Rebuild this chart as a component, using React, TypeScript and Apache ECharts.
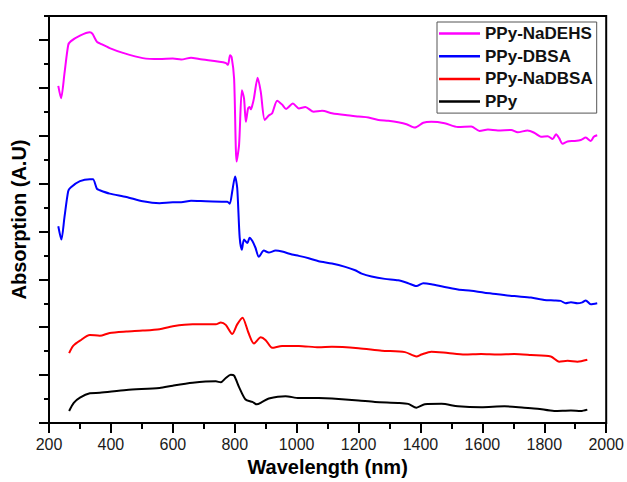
import React, { useEffect, useRef } from "react";
import * as echarts from "echarts";

const seriesNames = ["PPy-NaDEHS", "PPy-DBSA", "PPy-NaDBSA", "PPy"];
const seriesColors = ["#ff00ff", "#0000ff", "#ff0000", "#000000"];

const xTicks = [200, 400, 600, 800, 1000, 1200, 1400, 1600, 1800, 2000];
const yMajorTicks = [0, 1, 2, 3, 4, 5, 6, 7, 8];
const yMinorTicks = [0.5, 1.5, 2.5, 3.5, 4.5, 5.5, 6.5, 7.5, 8.5];

const naDEHS: [number, number][] = [
  [230, 7.04], [239, 6.78], [250, 7.3], [262, 7.89], [270, 7.97], [300, 8.09], [332, 8.16], [340, 8.13],
  [355, 7.96], [364, 7.93], [396, 7.83], [439, 7.73], [503, 7.62], [557, 7.6], [600, 7.61], [627, 7.59],
  [659, 7.63], [685, 7.6], [771, 7.52], [778, 7.48], [785, 7.68], [790, 7.64], [798, 7.19], [806, 5.46],
  [814, 5.81], [823, 6.95], [830, 6.78], [836, 6.29], [843, 6.57], [848, 6.6], [852, 6.55], [857, 6.64],
  [862, 6.78], [874, 7.21], [884, 6.92], [897, 6.33], [910, 6.42], [921, 6.47], [937, 6.73], [953, 6.65],
  [966, 6.56], [988, 6.67], [1007, 6.57], [1028, 6.6], [1055, 6.5], [1082, 6.52], [1114, 6.47], [1157, 6.43],
  [1200, 6.4], [1232, 6.38], [1264, 6.33], [1296, 6.31], [1328, 6.28], [1355, 6.24], [1382, 6.17],
  [1409, 6.27], [1435, 6.29], [1478, 6.26], [1521, 6.18], [1564, 6.19], [1591, 6.1], [1618, 6.13],
  [1650, 6.11], [1693, 6.12], [1714, 6.07], [1746, 6.11], [1768, 6.06], [1789, 5.98], [1811, 5.99],
  [1827, 5.93], [1838, 6.03], [1848, 5.95], [1859, 5.83], [1875, 5.88], [1896, 5.89], [1918, 5.91],
  [1934, 5.96], [1950, 5.89], [1960, 5.98], [1971, 6.01],
];

const dbsa: [number, number][] = [
  [230, 4.11], [240, 3.83], [250, 4.3], [262, 4.84], [270, 4.92], [300, 5.05], [332, 5.09], [342, 5.09],
  [355, 4.89], [364, 4.86], [396, 4.79], [450, 4.72], [503, 4.63], [557, 4.59], [600, 4.61], [627, 4.61],
  [659, 4.64], [707, 4.63], [776, 4.62], [784, 4.58], [792, 4.84], [801, 5.15], [808, 4.91], [816, 3.87],
  [823, 3.62], [830, 3.83], [841, 3.76], [848, 3.87], [857, 3.8], [867, 3.66], [878, 3.47], [894, 3.6],
  [910, 3.56], [932, 3.6], [953, 3.58], [985, 3.52], [1007, 3.49], [1039, 3.44], [1071, 3.38],
  [1114, 3.33], [1157, 3.26], [1189, 3.19], [1210, 3.12], [1242, 3.06], [1285, 3.01], [1328, 2.98],
  [1360, 2.92], [1387, 2.86], [1409, 2.92], [1435, 2.9], [1478, 2.84], [1521, 2.79], [1564, 2.76],
  [1607, 2.72], [1650, 2.69], [1703, 2.65], [1757, 2.62], [1800, 2.57], [1832, 2.56], [1853, 2.55],
  [1869, 2.5], [1886, 2.52], [1907, 2.5], [1923, 2.52], [1934, 2.56], [1950, 2.48], [1971, 2.5],
];

const naDBSA: [number, number][] = [
  [265, 1.46], [278, 1.61], [300, 1.72], [332, 1.84], [364, 1.82], [396, 1.88], [450, 1.91], [503, 1.93],
  [557, 1.96], [600, 2.02], [664, 2.06], [739, 2.06], [755, 2.1], [771, 2.05], [792, 1.86], [808, 2.06],
  [825, 2.2], [844, 1.89], [862, 1.66], [884, 1.79], [900, 1.73], [921, 1.57], [953, 1.61], [1007, 1.61],
  [1071, 1.58], [1114, 1.59], [1200, 1.56], [1275, 1.51], [1350, 1.48], [1387, 1.39], [1403, 1.43],
  [1435, 1.49], [1489, 1.46], [1543, 1.43], [1596, 1.44], [1650, 1.43], [1703, 1.44], [1757, 1.42],
  [1821, 1.39], [1848, 1.28], [1875, 1.3], [1907, 1.28], [1939, 1.32],
];

const ppy: [number, number][] = [
  [265, 0.25], [280, 0.42], [300, 0.53], [332, 0.62], [364, 0.63], [450, 0.69], [557, 0.73], [600, 0.78],
  [664, 0.84], [739, 0.87], [755, 0.85], [771, 0.94], [787, 1.01], [798, 0.99], [814, 0.75], [835, 0.49],
  [857, 0.44], [871, 0.39], [889, 0.44], [910, 0.51], [964, 0.56], [1007, 0.52], [1071, 0.52],
  [1114, 0.51], [1200, 0.47], [1253, 0.44], [1328, 0.42], [1360, 0.4], [1387, 0.32], [1414, 0.39],
  [1468, 0.4], [1521, 0.35], [1596, 0.33], [1671, 0.35], [1735, 0.32], [1778, 0.3], [1832, 0.25],
  [1886, 0.26], [1918, 0.25], [1939, 0.28],
];

const seriesData = [naDEHS, dbsa, naDBSA, ppy];

const FONT = "'Liberation Sans', Arial, sans-serif";

export default function App() {
  const ref = useRef<HTMLDivElement>(null);
  useEffect(() => {
    if (!ref.current) return;
    const chart = echarts.init(ref.current, null, { renderer: "svg" });
    const yBase = {
      type: "value",
      min: 0,
      max: 8.5,
      position: "left",
      splitLine: { show: false },
      axisLabel: { show: false },
    };
    chart.setOption({
      animation: false,
      backgroundColor: "#ffffff",
      grid: {
        left: 49,
        right: 18,
        top: 16,
        bottom: 56,
        show: true,
        borderColor: "#000",
        borderWidth: 2,
      },
      legend: {
        orient: "vertical",
        left: 437,
        top: 22,
        padding: [3, 4, 3, 2],
        itemGap: 5.7,
        itemWidth: 41,
        itemHeight: 2.5,
        icon: "rect",
        borderColor: "#555",
        borderWidth: 1,
        backgroundColor: "#fff",
        data: seriesNames,
        textStyle: {
          fontFamily: FONT,
          fontWeight: "bold",
          fontSize: 17,
          lineHeight: 17,
          color: "#111",
          padding: [0, 0, 0, 0],
        },
      },
      xAxis: {
        type: "value",
        min: xTicks[0],
        max: xTicks[xTicks.length - 1],
        interval: 200,
        name: "Wavelength (nm)",
        nameLocation: "middle",
        nameGap: 34,
        nameTextStyle: { fontFamily: FONT, fontWeight: "bold", fontSize: 20, color: "#000" },
        axisLine: { lineStyle: { color: "#000", width: 2 } },
        axisTick: { show: true, length: 10, lineStyle: { color: "#000", width: 2 } },
        minorTick: { show: true, splitNumber: 2, length: 6, lineStyle: { color: "#000", width: 2 } },
        splitLine: { show: false },
        axisLabel: {
          fontFamily: FONT,
          fontSize: 16,
          color: "#1a1a1a",
          margin: 13,
          formatter: (v: number) => String(v),
        },
      },
      yAxis: [
        {
          ...yBase,
          name: "Absorption (A.U)",
          nameLocation: "middle",
          nameGap: 20,
          nameTextStyle: { fontFamily: FONT, fontWeight: "bold", fontSize: 20, color: "#000" },
          interval: 1,
          axisLine: { show: true, lineStyle: { color: "#000", width: 2 } },
          axisTick: { show: true, length: 10, customValues: yMajorTicks, lineStyle: { color: "#000", width: 2 } },
        },
        {
          ...yBase,
          interval: 0.5,
          axisLine: { show: false },
          axisTick: { show: true, length: 5, customValues: yMinorTicks, lineStyle: { color: "#000", width: 2 } },
        },
      ],
      series: seriesNames.map((name, i) => ({
        name,
        type: "line",
        yAxisIndex: 0,
        data: seriesData[i],
        showSymbol: false,
        symbol: "none",
        smooth: 0.25,
        lineStyle: { color: seriesColors[i], width: 2 },
        itemStyle: { color: seriesColors[i] },
      })),
    });
    return () => chart.dispose();
  }, []);
  return (
    <div
      ref={ref}
      style={{ position: "fixed", left: 0, top: 0, width: 627, height: 482, background: "#fff" }}
    />
  );
}
